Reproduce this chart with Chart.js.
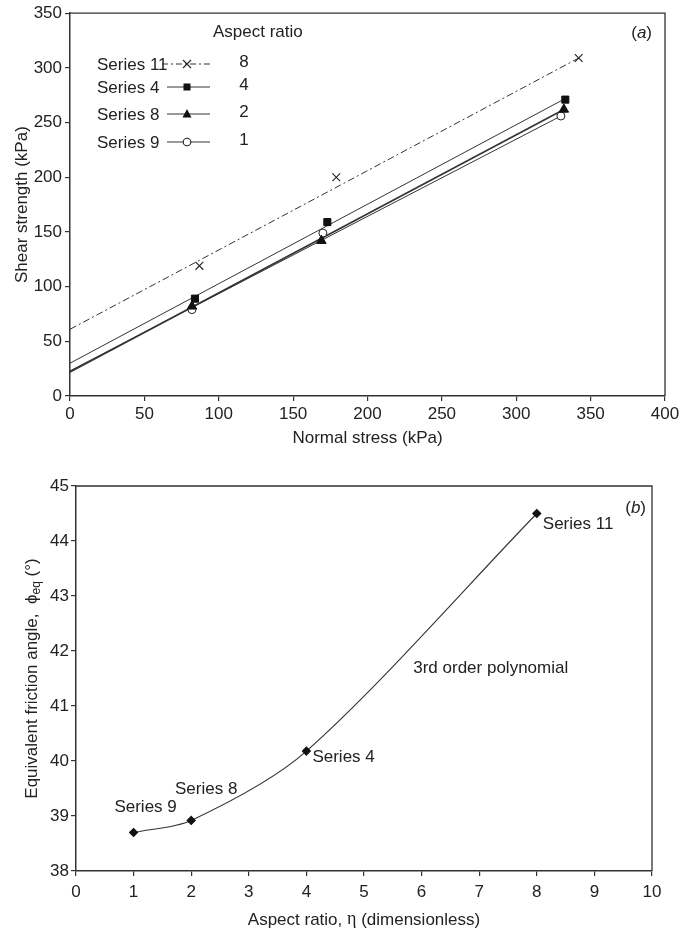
<!DOCTYPE html>
<html lang="en">
<head>
<meta charset="UTF-8">
<title>Shear strength and equivalent friction angle</title>
<script src="https://cdn.jsdelivr.net/npm/chart.js"></script>
<style>
  body { margin: 0; background: #fff; }
  .panel { position: absolute; left: 0; width: 690px; }
  #panelA { top: 0; height: 450px; }
  #panelB { top: 460px; height: 476px; }
</style>
</head>
<body>
<div class="panel" id="panelA"><canvas id="shearChart" width="690" height="450"></canvas></div>
<div class="panel" id="panelB"><canvas id="angleChart" width="690" height="476"></canvas></div>
<script>
// (a) direct shear results, normal stress vs shear strength (kPa)
const seriesNames = ['Series 11', 'Series 4', 'Series 8', 'Series 9'];
const aspectRatios = ['8', '4', '2', '1'];

const stressS11 = [87, 179, 342];
const shearS11 = [119, 200, 309];
const stressS4 = [84, 173, 333];
const shearS4 = [89, 159, 271];
const stressS8 = [82, 169, 332];
const shearS8 = [82, 142, 262];
const stressS9 = [82, 170, 330];
const shearS9 = [79, 149, 256];

// failure envelopes: start at zero stress, end at the last test
const fitStressS11 = [0, 342];
const fitShearS11 = [61, 309];
const fitStressS4 = [0, 333];
const fitShearS4 = [30, 272];
const fitStressS8 = [0, 332];
const fitShearS8 = [22, 262];
const fitStressS9 = [0, 330];
const fitShearS9 = [23, 256];

// (b) equivalent friction angle vs aspect ratio
const aspectValues = [1, 2, 4, 8];
const frictionAngles = [38.7, 38.92, 40.18, 44.5];
const pointLabels = ['Series 9', 'Series 8', 'Series 4', 'Series 11'];

const FONT = '"Liberation Sans", Arial, Helvetica, sans-serif';
const INK = '#222';
const LINE = '#333';

const pts = (xs, ys) => xs.map((x, i) => ({ x: x, y: ys[i] }));

// draws the top and right edges so the plot sits in a closed frame
const frameBox = {
  id: 'frameBox',
  afterDraw(chart) {
    const a = chart.chartArea, ctx = chart.ctx;
    ctx.save();
    ctx.strokeStyle = LINE;
    ctx.lineWidth = 1.3;
    ctx.beginPath();
    ctx.moveTo(a.left, a.top);
    ctx.lineTo(a.right, a.top);
    ctx.lineTo(a.right, a.bottom);
    ctx.stroke();
    ctx.restore();
  }
};

function drawMarker(ctx, style, x, y) {
  ctx.save();
  ctx.strokeStyle = INK;
  ctx.fillStyle = '#111';
  ctx.lineWidth = 1.1;
  ctx.beginPath();
  if (style === 'crossRot') {
    ctx.moveTo(x - 4, y - 4); ctx.lineTo(x + 4, y + 4);
    ctx.moveTo(x + 4, y - 4); ctx.lineTo(x - 4, y + 4);
    ctx.stroke();
  } else if (style === 'rect') {
    ctx.fillRect(x - 3.5, y - 3.5, 7, 7);
  } else if (style === 'triangle') {
    ctx.moveTo(x, y - 5); ctx.lineTo(x + 4.5, y + 3.5); ctx.lineTo(x - 4.5, y + 3.5);
    ctx.closePath(); ctx.fill();
  } else {
    ctx.fillStyle = '#fff';
    ctx.arc(x, y, 3.8, 0, Math.PI * 2);
    ctx.fill(); ctx.stroke();
  }
  ctx.restore();
}

const legendStyles = ['crossRot', 'rect', 'triangle', 'circle'];

// legend block with the aspect ratio column, plus axis titles and panel tag
const shearDecor = {
  id: 'shearDecor',
  afterDraw(chart) {
    const ctx = chart.ctx, a = chart.chartArea;
    ctx.save();
    ctx.fillStyle = INK;
    ctx.font = '17px ' + FONT;
    ctx.textBaseline = 'middle';
    ctx.textAlign = 'left';
    ctx.fillText('Aspect ratio', 213, 32);

    const rowY = [64, 87, 114, 142];
    seriesNames.forEach((name, i) => {
      const y = rowY[i];
      ctx.textAlign = 'left';
      ctx.fillText(name, 97, y + 1);
      ctx.save();
      ctx.strokeStyle = LINE;
      ctx.lineWidth = 1;
      if (i === 0) ctx.setLineDash([6, 3, 2, 3]);
      ctx.beginPath();
      ctx.moveTo(i === 0 ? 162 : 167, y);
      ctx.lineTo(210, y);
      ctx.stroke();
      ctx.restore();
      drawMarker(ctx, legendStyles[i], 187, y);
      ctx.textAlign = 'center';
      ctx.fillText(aspectRatios[i], 244, y - 2);
    });

    // axis titles
    ctx.textAlign = 'center';
    ctx.fillText('Normal stress (kPa)', (a.left + a.right) / 2, 438);
    ctx.save();
    ctx.translate(22, (a.top + a.bottom) / 2);
    ctx.rotate(-Math.PI / 2);
    ctx.fillText('Shear strength (kPa)', 0, 0);
    ctx.restore();

    // panel tag "(a)" with italic letter
    const tagY = a.top + 20;
    ctx.textAlign = 'left';
    const wOpen = ctx.measureText('(').width;
    ctx.font = 'italic 17px ' + FONT;
    const wA = ctx.measureText('a').width;
    ctx.font = '17px ' + FONT;
    const wClose = ctx.measureText(')').width;
    let tx = a.right - 13 - (wOpen + wA + wClose);
    ctx.fillText('(', tx, tagY); tx += wOpen;
    ctx.font = 'italic 17px ' + FONT;
    ctx.fillText('a', tx, tagY); tx += wA;
    ctx.font = '17px ' + FONT;
    ctx.fillText(')', tx, tagY);
    ctx.restore();
  }
};

function axisStyle(min, max, step, width, height, pad) {
  return {
    type: 'linear',
    min: min,
    max: max,
    ticks: { stepSize: step, color: INK, font: { family: FONT, size: 17 }, padding: pad },
    grid: { drawOnChartArea: false, drawTicks: true, tickLength: 5, color: LINE, lineWidth: 1.2 },
    border: { display: true, color: LINE, width: 1.5 },
    afterFit(scale) {
      if (width) scale.width = width;
      if (height) scale.height = height;
    }
  };
}

const lineSet = (xs, ys, width, dash) => ({
  data: pts(xs, ys),
  showLine: true,
  borderColor: LINE,
  borderWidth: width,
  borderDash: dash || [],
  pointRadius: 0,
  fill: false
});

new Chart(document.getElementById('shearChart'), {
  type: 'scatter',
  data: {
    datasets: [
      { data: pts(stressS11, shearS11), pointStyle: 'crossRot', pointRadius: 5.5, borderColor: INK, borderWidth: 1.1 },
      { data: pts(stressS4, shearS4), pointStyle: 'rect', pointRadius: 5, backgroundColor: '#111', borderColor: '#111', borderWidth: 1 },
      { data: pts(stressS8, shearS8), pointStyle: 'triangle', pointRadius: 5.5, backgroundColor: '#111', borderColor: '#111', borderWidth: 1 },
      { data: pts(stressS9, shearS9), pointStyle: 'circle', pointRadius: 4, backgroundColor: '#fff', borderColor: INK, borderWidth: 1 },
      lineSet(fitStressS11, fitShearS11, 1, [7, 3, 2, 3]),
      lineSet(fitStressS4, fitShearS4, 1),
      lineSet(fitStressS8, fitShearS8, 1.6),
      lineSet(fitStressS9, fitShearS9, 1)
    ]
  },
  options: {
    responsive: false,
    animation: false,
    devicePixelRatio: 1,
    layout: { padding: { top: 12, right: 25, left: 0, bottom: 0 } },
    scales: {
      x: axisStyle(0, 400, 50, null, 54, 3),
      y: axisStyle(0, 350, 50, 70, null, 3)
    },
    plugins: { legend: { display: false }, tooltip: { enabled: false } }
  },
  plugins: [frameBox, shearDecor]
});

// point labels, curve note, axis titles (with subscript) and panel tag for (b)
const angleDecor = {
  id: 'angleDecor',
  afterDraw(chart) {
    const ctx = chart.ctx, a = chart.chartArea;
    const sx = chart.scales.x, sy = chart.scales.y;
    ctx.save();
    ctx.fillStyle = INK;
    ctx.font = '17px ' + FONT;
    ctx.textBaseline = 'middle';

    const offsets = [
      { dx: 12, dy: -25, align: 'center' },
      { dx: 15, dy: -31, align: 'center' },
      { dx: 6, dy: 6, align: 'left' },
      { dx: 6, dy: 11, align: 'left' }
    ];
    pointLabels.forEach((txt, i) => {
      const px = sx.getPixelForValue(aspectValues[i]);
      const py = sy.getPixelForValue(frictionAngles[i]);
      ctx.textAlign = offsets[i].align;
      ctx.fillText(txt, px + offsets[i].dx, py + offsets[i].dy);
    });

    ctx.textAlign = 'center';
    ctx.fillText('3rd order polynomial', sx.getPixelForValue(7.2), sy.getPixelForValue(41.69));

    // x title, eta set in a serif face
    const xl = 'Aspect ratio, ', xe = '\u03b7', xr = ' (dimensionless)';
    ctx.textAlign = 'left';
    ctx.font = '17px ' + FONT;
    const wl = ctx.measureText(xl).width, wr = ctx.measureText(xr).width;
    ctx.font = '18px "Liberation Serif", "DejaVu Serif", serif';
    const we = ctx.measureText(xe).width;
    let ex = (a.left + a.right) / 2 - (wl + we + wr) / 2;
    ctx.font = '17px ' + FONT;
    ctx.fillText(xl, ex, 460); ex += wl;
    ctx.font = '18px "Liberation Serif", "DejaVu Serif", serif';
    ctx.fillText(xe, ex, 459); ex += we;
    ctx.font = '17px ' + FONT;
    ctx.fillText(xr, ex, 460);

    // y title with subscript "eq"
    const partA = 'Equivalent friction angle,  \u03d5';
    const partB = 'eq';
    const partC = ' (\u00b0)';
    ctx.font = '17px ' + FONT;
    const wA = ctx.measureText(partA).width;
    const wC = ctx.measureText(partC).width;
    ctx.font = '12px ' + FONT;
    const wB = ctx.measureText(partB).width;
    ctx.save();
    ctx.translate(32, (a.top + a.bottom) / 2);
    ctx.rotate(-Math.PI / 2);
    ctx.textAlign = 'left';
    let tx = -(wA + wB + wC) / 2;
    ctx.font = '17px ' + FONT;
    ctx.fillText(partA, tx, 0); tx += wA;
    ctx.font = '12px ' + FONT;
    ctx.fillText(partB, tx, 5); tx += wB;
    ctx.font = '17px ' + FONT;
    ctx.fillText(partC, tx, 0);
    ctx.restore();

    // panel tag "(b)"
    const tagY = a.top + 22;
    ctx.textAlign = 'left';
    ctx.font = '17px ' + FONT;
    const wOpen = ctx.measureText('(').width;
    const wClose = ctx.measureText(')').width;
    ctx.font = 'italic 17px ' + FONT;
    const wLet = ctx.measureText('b').width;
    let bx = a.right - 6 - (wOpen + wLet + wClose);
    ctx.font = '17px ' + FONT;
    ctx.fillText('(', bx, tagY); bx += wOpen;
    ctx.font = 'italic 17px ' + FONT;
    ctx.fillText('b', bx, tagY); bx += wLet;
    ctx.font = '17px ' + FONT;
    ctx.fillText(')', bx, tagY);
    ctx.restore();
  }
};

new Chart(document.getElementById('angleChart'), {
  type: 'scatter',
  data: {
    datasets: [{
      data: pts(aspectValues, frictionAngles),
      showLine: true,
      tension: 0.3,
      borderColor: LINE,
      borderWidth: 1.1,
      pointStyle: 'rectRot',
      pointRadius: 4,
      backgroundColor: '#111',
      pointBorderColor: '#111',
      fill: false
    }]
  },
  options: {
    responsive: false,
    animation: false,
    devicePixelRatio: 1,
    layout: { padding: { top: 26, right: 38, left: 0, bottom: 0 } },
    scales: {
      x: axisStyle(0, 10, 1, null, 65, 6),
      y: axisStyle(38, 45, 1, 76, null, 2)
    },
    plugins: { legend: { display: false }, tooltip: { enabled: false } }
  },
  plugins: [frameBox, angleDecor]
});
</script>
</body>
</html>
